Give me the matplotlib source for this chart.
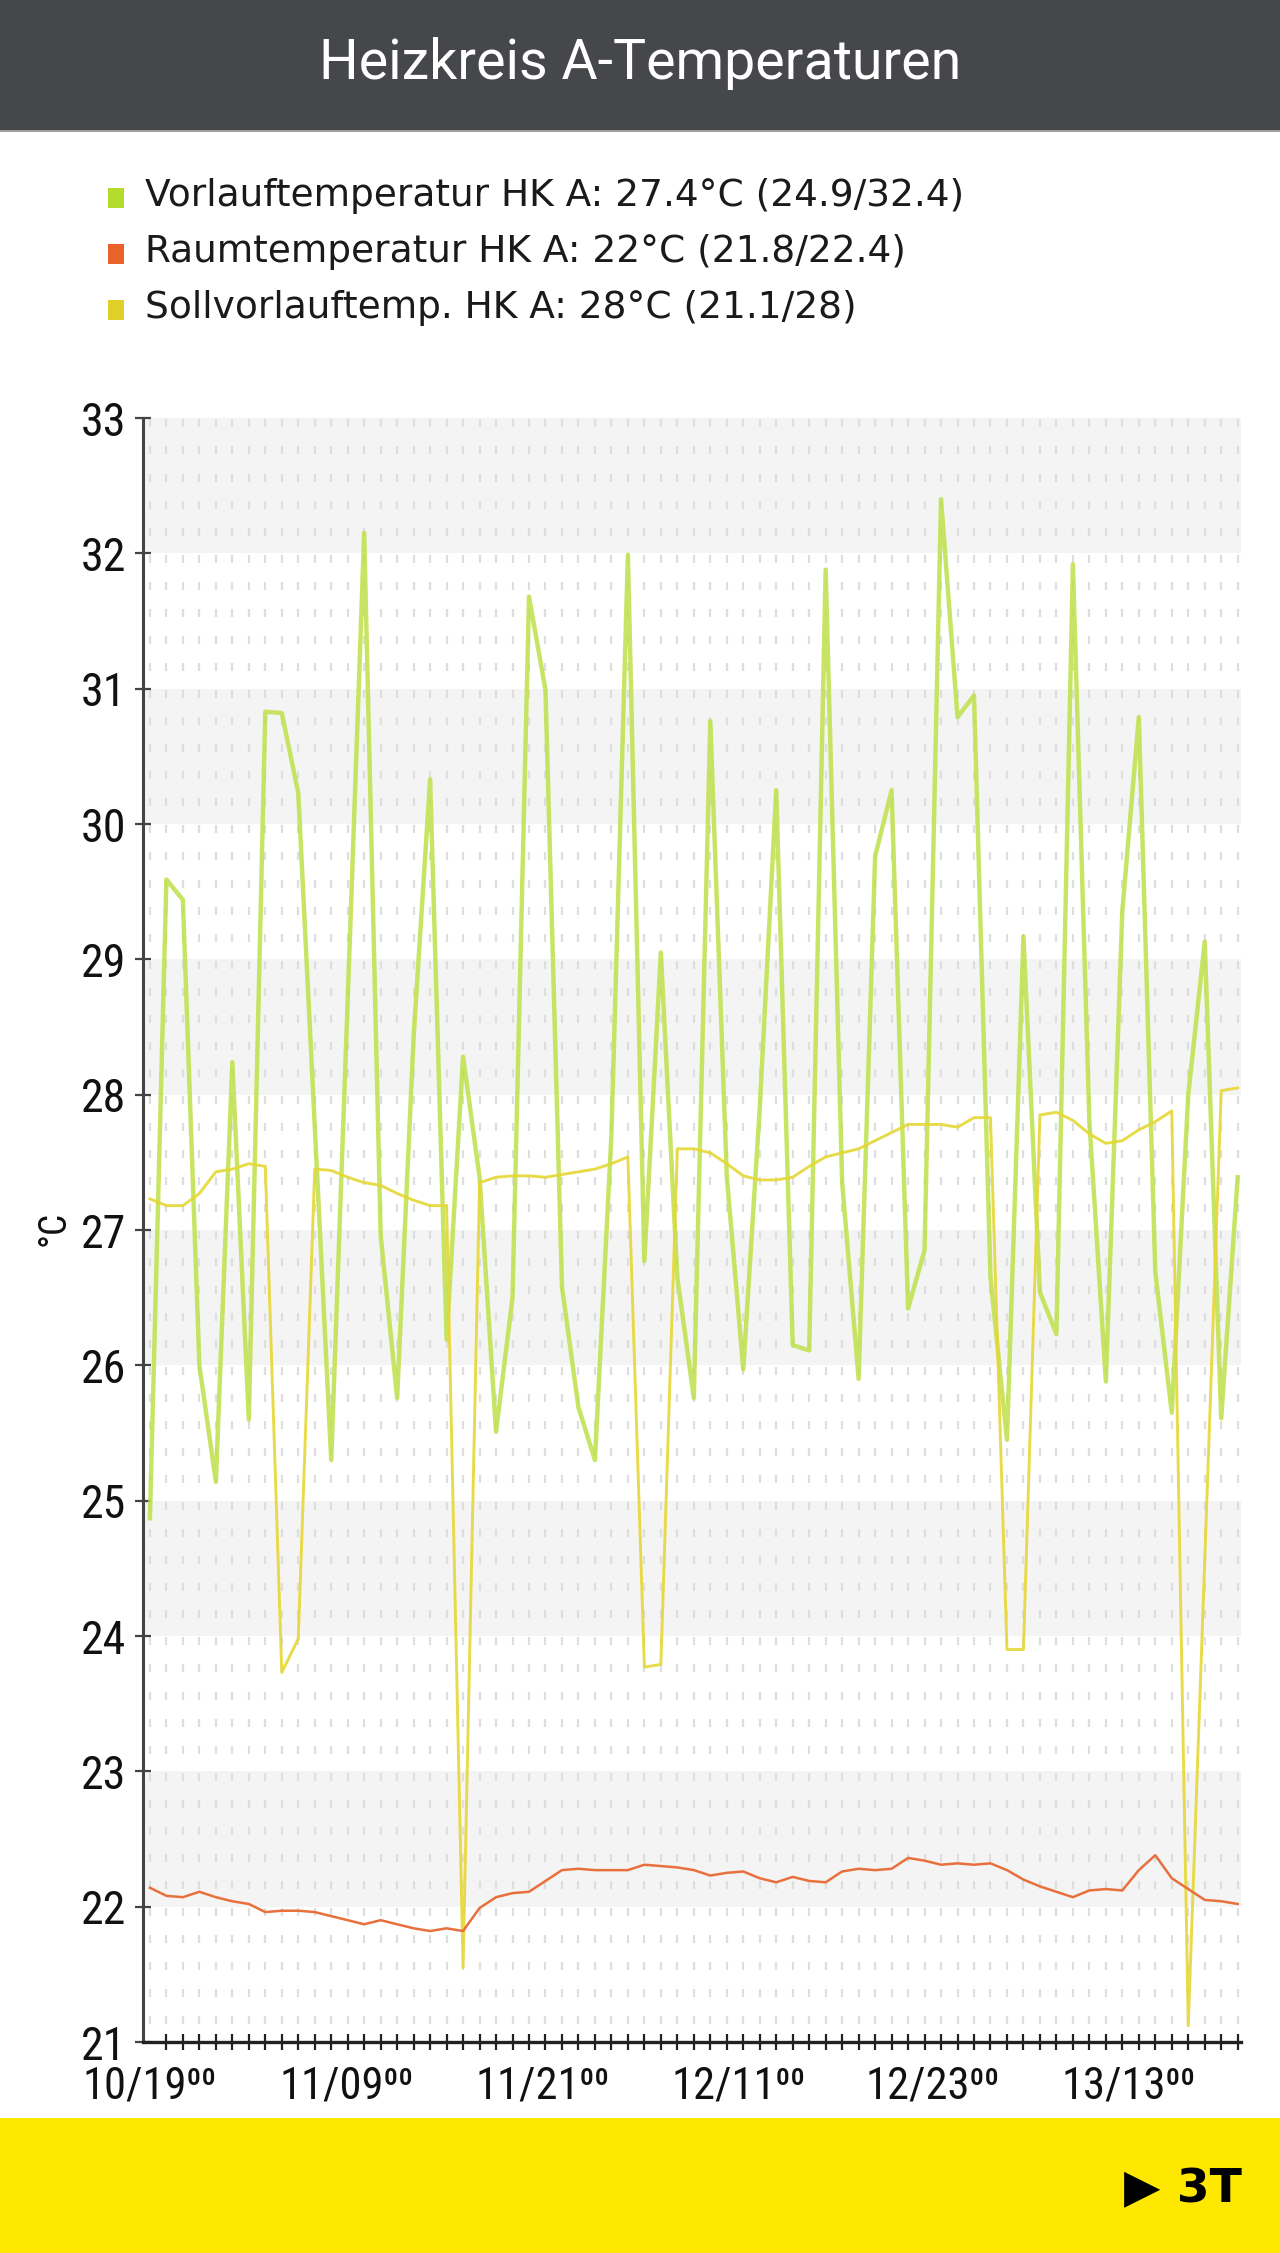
import numpy as np
import matplotlib
matplotlib.use("Agg")
import matplotlib.pyplot as plt
from matplotlib.patches import Rectangle
from matplotlib import font_manager

# Vorlauftemperatur HK A (green)
vorlauf = [24.87, 29.59, 29.44, 26.0, 25.14, 28.24, 25.6, 30.83, 30.82, 30.23,
           27.77, 25.30, 28.7, 32.15, 26.96, 25.76, 28.43, 30.33, 26.19, 28.28,
           27.39, 25.51, 26.5, 31.68, 30.99, 26.58, 25.69, 25.30, 27.7, 31.99,
           26.77, 29.05, 26.65, 25.76, 30.76, 27.4, 25.97, 27.9, 30.25, 26.15,
           26.11, 31.88, 27.35, 25.9, 29.76, 30.25, 26.42, 26.85, 32.4, 30.79,
           30.95, 26.65, 25.45, 29.17, 26.54, 26.23, 31.92, 27.8, 25.88, 29.36,
           30.79, 26.69, 25.65, 28.0, 29.13, 25.61, 27.39]
# Raumtemperatur HK A (orange)
raum = [22.14, 22.08, 22.07, 22.11, 22.07, 22.04, 22.02, 21.96, 21.97, 21.97,
        21.96, 21.93, 21.90, 21.87, 21.90, 21.87, 21.84, 21.82, 21.84, 21.82,
        21.99, 22.07, 22.10, 22.11, 22.19, 22.27, 22.28, 22.27, 22.27, 22.27,
        22.31, 22.30, 22.29, 22.27, 22.23, 22.25, 22.26, 22.21, 22.18, 22.22,
        22.19, 22.18, 22.26, 22.28, 22.27, 22.28, 22.36, 22.34, 22.31, 22.32,
        22.31, 22.32, 22.27, 22.20, 22.15, 22.11, 22.07, 22.12, 22.13, 22.12,
        22.27, 22.38, 22.21, 22.13, 22.05, 22.04, 22.02]
# Sollvorlauftemp. HK A (yellow)
soll = [27.23, 27.18, 27.18, 27.27, 27.43, 27.45, 27.49, 27.47, 23.73, 23.98,
        27.45, 27.44, 27.39, 27.35, 27.33, 27.27, 27.22, 27.18, 27.18, 21.55,
        27.35, 27.39, 27.40, 27.40, 27.39, 27.41, 27.43, 27.45, 27.49, 27.54,
        23.77, 23.79, 27.6, 27.6, 27.57, 27.49, 27.40, 27.37, 27.37, 27.39,
        27.47, 27.54, 27.57, 27.6, 27.66, 27.72, 27.78, 27.78, 27.78, 27.76,
        27.83, 27.83, 23.9, 23.9, 27.85, 27.87, 27.81, 27.71, 27.64, 27.66,
        27.74, 27.80, 27.88, 21.12, 24.56, 28.03, 28.05]

xlabels = ["10/19⁰⁰", "11/09⁰⁰", "11/21⁰⁰", "12/11⁰⁰", "12/23⁰⁰", "13/13⁰⁰"]
xlabel_pos = [0, 11.9, 23.8, 35.7, 47.5, 59.4]
legend_labels = ["Vorlauftemperatur HK A: 27.4°C (24.9/32.4)",
                 "Raumtemperatur HK A: 22°C (21.8/22.4)",
                 "Sollvorlauftemp. HK A: 28°C (21.1/28)"]
legend_colors = ["#b4dc2c", "#e8622a", "#e2d02a"]

# narrow face for the axis labels if one is installed
avail = {f.name for f in font_manager.fontManager.ttflist}
cond = next((n for n in ["Liberation Sans Narrow", "DejaVu Sans Condensed",
                         "Roboto Condensed", "Open Sans Condensed"] if n in avail), None)
if cond:
    narrow = [cond, "DejaVu Sans"]
    ysize, xsize = 33, 32
else:
    narrow = ["DejaVu Sans"]
    ysize, xsize = 26, 23

W, H = 1280, 2253
fig = plt.figure(figsize=(W / 100, H / 100), dpi=100)
fig.patch.set_facecolor("white")

# header
fig.add_artist(Rectangle((0, 1 - 130 / H), 1, 130 / H, transform=fig.transFigure,
                         facecolor="#46474b", edgecolor="none"))
fig.add_artist(Rectangle((0, 1 - 132 / H), 1, 2 / H, transform=fig.transFigure,
                         facecolor="#a0a0a0", edgecolor="none"))
fig.text(0.5, 1 - 64 / H, "Heizkreis A-Temperaturen", color="white", fontsize=40,
         family=["Roboto", "DejaVu Sans"], ha="center", va="center")

# legend
rows = [196, 252, 308]
for lab, col, ry in zip(legend_labels, legend_colors, rows):
    fig.add_artist(Rectangle((108 / W, 1 - (ry + 12) / H), 16 / W, 20 / H,
                             transform=fig.transFigure, facecolor=col, edgecolor="none"))
    fig.text(145 / W, 1 - ry / H, lab, fontsize=27, color="#1a1a1a",
             family="DejaVu Sans", ha="left", va="center")

# footer
fig.add_artist(Rectangle((0, 0), 1, (H - 2118) / H, transform=fig.transFigure,
                         facecolor="#ffe800", edgecolor="none"))
fig.text(1242 / W, 1 - 2190 / H, "▶ 3T", fontsize=34, fontweight="bold",
         color="black", family="DejaVu Sans", ha="right", va="center")

# plot
ax = fig.add_axes([143 / W, 1 - 2042 / H, 1098 / W, 1624 / H])
x = np.arange(len(vorlauf))
ax.set_xlim(-0.42, 66.2)
ax.set_ylim(21, 33)
ax.set_facecolor("white")

for v in range(22, 33, 2):
    ax.axhspan(v, v + 1, color="#f4f4f4", zorder=0, lw=0)

gy = 32.96 - 0.2 * np.arange(60)
gx, gyy = np.meshgrid(x, gy)
ax.scatter(gx.ravel(), gyy.ravel(), marker="|", s=30, c="#dedede",
           linewidths=1.6, zorder=1)

ax.plot(x, vorlauf, color="#bfe04a", lw=3.2, alpha=0.85, zorder=3)
ax.plot(x, soll, color="#e6d736", lw=2.1, alpha=0.9, zorder=4)
ax.plot(x, raum, color="#e8703c", lw=1.8, zorder=5)

for s in ["top", "right"]:
    ax.spines[s].set_visible(False)
ax.spines["left"].set_color("#444444")
ax.spines["left"].set_linewidth(2.2)
ax.spines["bottom"].set_color("#222222")
ax.spines["bottom"].set_linewidth(2.4)

ax.set_yticks(range(21, 34))
ax.tick_params(axis="y", direction="inout", length=12, width=1.6, color="#444444",
               labelsize=ysize, pad=6, labelcolor="#111111")
ax.set_xticks(x, minor=True)
ax.set_xticks(xlabel_pos, xlabels)
ax.tick_params(axis="x", which="major", length=0, pad=17, labelsize=xsize,
               labelcolor="#111111")
ax.tick_params(axis="x", which="minor", direction="inout", length=11, width=1.6,
               color="#222222")
for lab in ax.get_xticklabels() + ax.get_yticklabels():
    lab.set_family(narrow)

fig.text(54 / W, 1 - 1228 / H, "°C", rotation=90, fontsize=27, family=narrow,
         color="#111111", ha="center", va="center")

fig.savefig("out.png", dpi=100)
